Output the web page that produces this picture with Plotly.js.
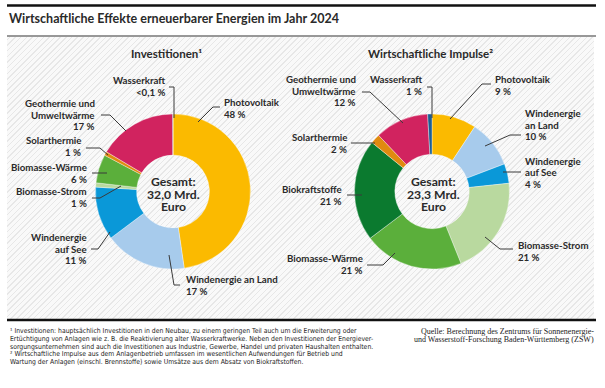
<!DOCTYPE html>
<html><head><meta charset="utf-8">
<script src="https://cdn.plot.ly/plotly-3.0.1.min.js"></script>
<style>
html,body{margin:0;padding:0;background:#fff;}
#wrap{position:relative;width:605px;height:388px;overflow:hidden;}
#hatch{position:absolute;left:7px;top:37px;width:587px;height:282px;
 background:repeating-linear-gradient(-45deg,#e7e7e7 0px,#e7e7e7 1px,#f9f9f9 1px,#f9f9f9 4px);}
#chart{position:absolute;left:0;top:0;width:605px;height:388px;}
</style></head>
<body><div id="wrap"><div id="hatch"></div><div id="chart"></div></div>
<script>
// ---- data ----
const categories = ['Photovoltaik','Windenergie an Land','Windenergie auf See','Biomasse-Strom','Biomasse-Wärme','Biokraftstoffe','Solarthermie','Geothermie und Umweltwärme','Wasserkraft'];
const colors = ['#FBBA00','#A7CBEC','#0A98D8','#B9D99F','#5BAF3B','#0B7A2F','#E08A10','#D1235F','#1C5E92'];
// Investitionen (share %, Biokraftstoffe not included)
const invCategories = ['Photovoltaik','Windenergie an Land','Windenergie auf See','Biomasse-Strom','Biomasse-Wärme','Solarthermie','Geothermie und Umweltwärme','Wasserkraft'];
const invValues = [48.0, 17.2, 11.2, 0.9, 6.0, 0.8, 16.5, 0.05];
const invPctText = ['48 %','17 %','11 %','1 %','6 %','1 %','17 %','<0,1 %'];
const invTotal = '32,0';
// Wirtschaftliche Impulse (share %)
const impCategories = ['Photovoltaik','Windenergie an Land','Windenergie auf See','Biomasse-Strom','Biomasse-Wärme','Biokraftstoffe','Solarthermie','Geothermie und Umweltwärme','Wasserkraft'];
const impValues = [9.3, 9.9, 4.1, 20.6, 20.8, 21.2, 2.0, 11.2, 0.9];
const impPctText = ['9 %','10 %','4 %','21 %','21 %','21 %','2 %','12 %','1 %'];
const impTotal = '23,3';

const W = 605, H = 388;
const X = x => x / W, Y = y => 1 - y / H;
const FB = 'Lato, "DejaVu Sans Condensed", sans-serif';
const TXT = '#2a2a2a', LINE = '#3a3a3a';
const colorOf = c => colors[categories.indexOf(c)];

function dom(cx, cy, r){ return {x:[X(cx-r), X(cx+r)], y:[Y(cy+r), Y(cy-r)]}; }

const traces = [
 {type:'pie', labels:invCategories, values:invValues, sort:false, direction:'clockwise', rotation:0,
  hole:0.47, textinfo:'none', hoverinfo:'label+percent', domain:dom(173,191.5,77.5),
  marker:{colors:invCategories.map(colorOf), line:{color:'rgba(255,255,255,0.6)', width:0.6}}},
 {type:'pie', labels:impCategories, values:impValues, sort:false, direction:'clockwise', rotation:0,
  hole:0.48, textinfo:'none', hoverinfo:'label+percent', domain:dom(432,191.5,77.5),
  marker:{colors:impCategories.map(colorOf), line:{color:'rgba(255,255,255,0.6)', width:0.6}}}
];

const ann = [];
function txt(t, x, y, anchor, size, bold, fam, color){
  ann.push({text: bold ? '<b>'+t+'</b>' : t, x:X(x), y:Y(y), xref:'paper', yref:'paper',
    xanchor:anchor, yanchor:'middle', showarrow:false,
    font:{family:fam||FB, size:size, color:color||TXT}});
}
function label(lines, x, y0, anchor, dy){
  lines.forEach((l,i)=>txt(l, x, y0 + i*(dy||11.7), anchor, 9.7, true));
}
function splitName(name){
  const m = {'Geothermie und Umweltwärme':['Geothermie und','Umweltwärme'],
             'Windenergie auf See':['Windenergie','auf See']};
  return m[name] || [name];
}
const shapes = [];
function leader(pts){
  shapes.push({type:'path', xref:'paper', yref:'paper',
    path: pts.map((p,i)=>(i?'L':'M')+X(p[0])+','+Y(p[1])).join(' '),
    line:{color:LINE, width:1}});
}
function hline(y, w, c){ shapes.push({type:'line', xref:'paper', yref:'paper', x0:X(7), x1:X(596), y0:Y(y), y1:Y(y), line:{color:c, width:w}}); }

// frame lines
hline(5.5, 2.5, '#111');
hline(36, 1.2, '#333');
hline(320, 2.5, '#111');

// titles
txt('Wirtschaftliche Effekte erneuerbarer Energien im Jahr 2024', 7, 18.5, 'left', 12.5, true);
txt('Investitionen¹', 166, 54, 'center', 11.5, true);
txt('Wirtschaftliche Impulse²', 430, 54, 'center', 11.5, true);

// center totals
[['Gesamt:',181.5],[invTotal+' Mrd.',194],['Euro',206]].forEach(a=>txt(a[0],174,a[1],'center',12.2,true));
[['Gesamt:',181.5],[impTotal+' Mrd.',194],['Euro',206]].forEach(a=>txt(a[0],433,a[1],'center',12.2,true));

// left labels
const L = (c) => invCategories.indexOf(c);
label([invCategories[L('Wasserkraft')], invPctText[L('Wasserkraft')]], 167, 80, 'right');
leader([[169,87],[174,87],[174,118]]);
label([invCategories[L('Photovoltaik')], invPctText[L('Photovoltaik')]], 222, 102, 'left');
leader([[198,122],[213,107],[220,107]]);
label(splitName('Geothermie und Umweltwärme').concat([invPctText[L('Geothermie und Umweltwärme')]]), 97, 103, 'right');
leader([[101,115],[110,115],[126,131]]);
label(['Solarthermie', invPctText[L('Solarthermie')]], 83, 140, 'right');
leader([[86,148],[100,148],[108,155]]);
label(['Biomasse-Wärme', invPctText[L('Biomasse-Wärme')]], 89, 167, 'right');
leader([[92,173],[107,173]]);
label(['Biomasse-Strom', invPctText[L('Biomasse-Strom')]], 89, 191, 'right');
leader([[92,198],[100,198],[121,186]]);
label(splitName('Windenergie auf See').concat([invPctText[L('Windenergie auf See')]]), 89, 237, 'right');
leader([[91,249],[98,249],[110,232]]);
label(['Windenergie an Land', invPctText[L('Windenergie an Land')]], 184, 279, 'left');
leader([[169,255],[174,285],[180,285]]);

// right labels
const R = (c) => impCategories.indexOf(c);
label(splitName('Geothermie und Umweltwärme').concat([impPctText[R('Geothermie und Umweltwärme')]]), 358, 79, 'right');
leader([[362,92],[370,92],[403,123]]);
label(['Wasserkraft', impPctText[R('Wasserkraft')]], 424, 79, 'right');
leader([[427,87],[432,87],[432,118]]);
label(['Photovoltaik', impPctText[R('Photovoltaik')]], 493, 79, 'left');
leader([[491,84],[482,84],[450,119]]);
label(['Windenergie','an Land', impPctText[R('Windenergie an Land')]], 523, 113, 'left');
leader([[521,135],[510,135],[485,146]]);
label(['Windenergie','auf See', impPctText[R('Windenergie auf See')]], 523, 160.5, 'left');
leader([[503,172],[521,172]]);
label(['Biomasse-Strom', impPctText[R('Biomasse-Strom')]], 516, 245, 'left');
leader([[485,237],[500,249],[513,249]]);
label(['Biomasse-Wärme', impPctText[R('Biomasse-Wärme')]], 365, 258, 'right');
leader([[395,253],[383,265],[367,265]]);
label(['Biokraftstoffe', impPctText[R('Biokraftstoffe')]], 344, 189, 'right');
leader([[347,195],[362,195]]);
label(['Solarthermie', impPctText[R('Solarthermie')]], 349, 137, 'right');
leader([[351,143],[375,143]]);

// footnotes
const FN = '"DejaVu Sans Condensed",sans-serif';
const foot = [
 '¹ Investitionen: hauptsächlich Investitionen in den Neubau, zu einem geringen Teil auch um die Erweiterung oder',
 'Ertüchtigung von Anlagen wie z. B. die Reaktivierung alter Wasserkraftwerke. Neben den Investitionen der Energiever-',
 'sorgungsunternehmen sind auch die Investitionen aus Industrie, Gewerbe, Handel und privaten Haushalten enthalten.',
 '² Wirtschaftliche Impulse aus dem Anlagenbetrieb umfassen im wesentlichen Aufwendungen für Betrieb und',
 'Wartung der Anlagen (einschl. Brennstoffe) sowie Umsätze aus dem Absatz von Biokraftstoffen.'
];
const footY = [331, 338.8, 346.6, 354.4, 362.2];
foot.forEach((t,i)=>txt(t, 8, footY[i], 'left', 6.8, false, FN, '#222'));
txt('Quelle: Berechnung des Zentrums für Sonnenenergie-', 596, 331, 'right', 8, false, '"Liberation Serif",serif', '#222');
txt('und Wasserstoff-Forschung Baden-Württemberg (ZSW)', 596, 339.5, 'right', 8, false, '"Liberation Serif",serif', '#222');

const layout = {width:W, height:H, margin:{l:0,r:0,t:0,b:0}, showlegend:false,
  paper_bgcolor:'rgba(0,0,0,0)', plot_bgcolor:'rgba(0,0,0,0)',
  annotations:ann, shapes:shapes};
Plotly.newPlot('chart', traces, layout, {staticPlot:true, displayModeBar:false});
</script></body></html>
